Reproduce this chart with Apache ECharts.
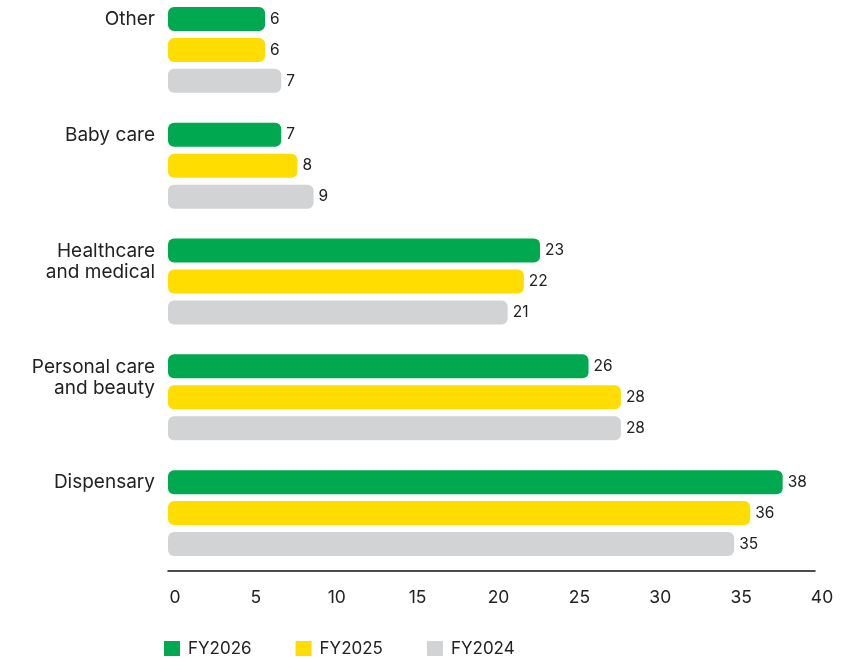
<!DOCTYPE html>
<html>
<head>
<meta charset="utf-8">
<script src="https://cdn.jsdelivr.net/npm/echarts@6/dist/echarts.min.js"></script>
<style>
  html, body { margin: 0; padding: 0; background: #fff; }
  #chart { width: 867px; height: 659px; }
</style>
</head>
<body>
<div id="chart"></div>
<script>
const categories = ['Other', 'Baby care', 'Healthcare\nand medical', 'Personal care\nand beauty', 'Dispensary'];
const fy2026 = [6, 7, 23, 26, 38];
const fy2025 = [6, 8, 22, 28, 36];
const fy2024 = [7, 9, 21, 28, 35];
const seriesNames = ['FY2026', 'FY2025', 'FY2024'];
const colors = ['#00a94f', '#ffdd00', '#d1d3d4'];

const chart = echarts.init(document.getElementById('chart'));
const font = 'Inter, "Open Sans", sans-serif';

const makeSeries = (name, data, color) => ({
  name: name,
  type: 'bar',
  data: data,
  barWidth: 24,
  barGap: '29%',
  itemStyle: { color: color, borderRadius: 6 },
  label: {
    show: true,
    position: 'right',
    distance: 5,
    color: '#222',
    fontFamily: font,
    fontSize: 15.5
  }
});

chart.setOption({
  animation: false,
  textStyle: { fontFamily: font },
  grid: { left: 168, right: 52, top: -8, bottom: 88, containLabel: false, outerBoundsMode: 'none' },
  legend: {
    left: 159,
    top: 635,
    itemWidth: 16,
    itemHeight: 15,
    itemGap: 44,
    icon: 'rect',
    data: seriesNames,
    textStyle: { color: '#222', fontSize: 17, fontFamily: font, padding: [0, 0, 0, 3] }
  },
  xAxis: {
    type: 'value',
    min: 0,
    max: 40,
    interval: 5,
    splitLine: { show: false },
    axisTick: { show: false },
    axisLine: { show: true, lineStyle: { color: '#111', width: 1.5 } },
    axisLabel: {
      color: '#222',
      fontSize: 17.5,
      fontFamily: font,
      margin: 18,
      padding: [0, 0, 0, 14]
    }
  },
  yAxis: {
    type: 'category',
    data: categories,
    inverse: true,
    axisLine: { show: false },
    axisTick: { show: false },
    axisLabel: {
      color: '#222',
      fontSize: 19,
      fontFamily: font,
      lineHeight: 21,
      margin: 13,
      align: 'right',
      verticalAlign: 'top',
      padding: [-41, 0, 0, 0]
    }
  },
  series: [
    makeSeries(seriesNames[0], fy2026, colors[0]),
    makeSeries(seriesNames[1], fy2025, colors[1]),
    makeSeries(seriesNames[2], fy2024, colors[2])
  ]
});
</script>
</body>
</html>
